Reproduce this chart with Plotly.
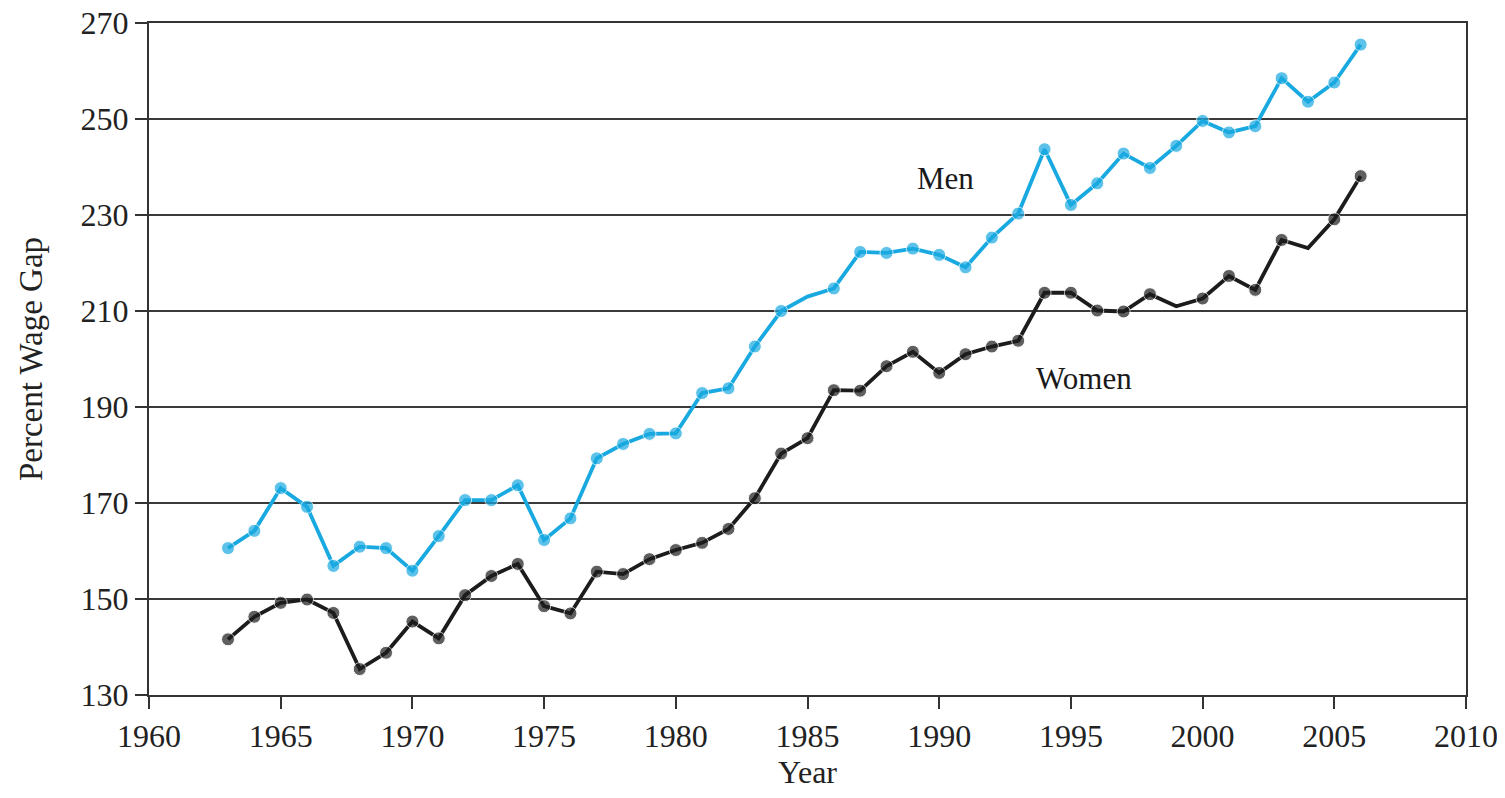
import plotly.graph_objects as go

years = list(range(1963, 2007))
men = [160.6, 164.2, 173.1, 169.2, 156.9, 160.9, 160.6, 155.9, 163.1, 170.6,
       170.6, 173.7, 162.3, 166.8, 179.3, 182.3, 184.4, 184.5, 192.9, 193.9,
       202.6, 210.0, 213.0, 214.7, 222.3, 222.1, 223.0, 221.7, 219.1, 225.3,
       230.3, 243.7, 232.1, 236.6, 242.8, 239.8, 244.4, 249.6, 247.2, 248.5,
       258.5, 253.6, 257.6, 265.5]
women = [141.6, 146.3, 149.2, 149.9, 147.1, 135.4, 138.8, 145.3, 141.8, 150.8,
         154.8, 157.3, 148.5, 147.0, 155.7, 155.2, 158.3, 160.2, 161.7, 164.6,
         171.0, 180.3, 183.5, 193.5, 193.4, 198.5, 201.5, 197.1, 201.0, 202.6,
         203.8, 213.8, 213.8, 210.1, 209.9, 213.5, 211.0, 212.6, 217.3, 214.4,
         224.8, 223.1, 229.1, 238.1]
men_unmarked_years = [1985]
women_unmarked_years = [1999, 2004]
y_ticks = [130, 150, 170, 190, 210, 230, 250, 270]
x_ticks = [1960, 1965, 1970, 1975, 1980, 1985, 1990, 1995, 2000, 2005, 2010]

BLUE = "#19a9e1"
BLACK = "#1c1c1c"
FONT = "Liberation Serif"
MS = 13

def sizes(unmarked):
    return [0 if y in unmarked else MS for y in years]

fig = go.Figure()
fig.add_trace(go.Scatter(x=years, y=men, mode="lines+markers", name="Men",
                         line=dict(color=BLUE, width=3.8),
                         marker=dict(color=BLUE, size=sizes(men_unmarked_years))))
fig.add_trace(go.Scatter(x=years, y=women, mode="lines+markers", name="Women",
                         line=dict(color=BLACK, width=3.8),
                         marker=dict(color=BLACK, size=sizes(women_unmarked_years))))

fig.add_annotation(x=1990.25, y=237.7, text="Men", showarrow=False,
                   font=dict(family=FONT, size=31, color="#1a1a1a"))
fig.add_annotation(x=1995.5, y=196.0, text="Women", showarrow=False,
                   font=dict(family=FONT, size=31, color="#1a1a1a"))

fig.update_layout(
    width=1497, height=790,
    margin=dict(l=141, r=39, t=15, b=103, autoexpand=False),
    paper_bgcolor="white", plot_bgcolor="white",
    showlegend=False,
    font=dict(family=FONT, color="#222222"),
)
fig.update_xaxes(range=[1960, 2010], tickvals=x_ticks, showgrid=False, automargin=False,
                 showline=True, linecolor="#333333", linewidth=2, mirror=True,
                 ticks="outside", ticklen=12, tickcolor="#333333", tickwidth=1.5,
                 ticklabeloverflow="allow",
                 tickfont=dict(family=FONT, size=32, color="#222222"),
                 title=dict(text="Year", font=dict(family=FONT, size=32, color="#222222"), standoff=4),
                 zeroline=False)
fig.update_yaxes(range=[130, 270], tickvals=y_ticks, showgrid=True, automargin=False,
                 gridcolor="#3a3a3a", gridwidth=1.6,
                 showline=True, linecolor="#333333", linewidth=2, mirror=True,
                 ticks="outside", ticklen=12, tickcolor="#333333", tickwidth=1.5,
                 ticklabeloverflow="allow",
                 tickfont=dict(family=FONT, size=32, color="#222222"),
                 title=dict(text="Percent Wage Gap", font=dict(family=FONT, size=33, color="#222222"), standoff=28),
                 zeroline=False)

fig.write_html("out.html")
